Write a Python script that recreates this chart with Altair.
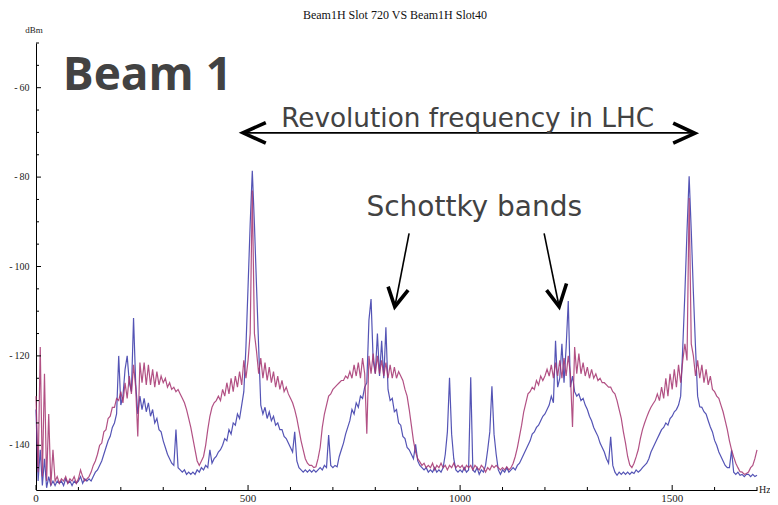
import altair as alt
import pandas as pd

# ---------------- data ----------------
freq = list(range(0, 1705, 5))  # Hz, 5 Hz grid

# magenta trace
red_dbm = (
    [-129, -146, -118, -147, -124, -148, -133, -149, -141, -148, -147, -148.5, -147.5, -148, -147, -148.5, -147.5, -148, -147, -148.5]
    + [-147.5, -145.5, -147, -148, -147.5, -147, -146, -144.5, -143.5, -142, -140, -139.5, -137, -136.5, -134, -133.5, -131.5, -131.5, -129.5, -130]
    + [-128, -130.5, -126, -129.5, -124.5, -128.5, -122, -127, -138, -121.5, -126, -121.5, -126.5, -122, -126.5, -123, -127, -123.5, -126.5, -124.5]
    + [-126, -125, -127, -126, -127.5, -127, -128, -127.5, -128.5, -129.5, -130.5, -132, -134, -136, -138.5, -141, -143.5, -144.5, -143.5, -142.5]
    + [-140, -136.5, -133.5, -131.5, -130.5, -130, -129, -130, -127.5, -129, -126, -128.5, -125, -128, -124.5, -127, -123.5, -126.5, -121, -125]
    + [-121, -115, -83, -115, -119, -124, -120.5, -125, -121.5, -125.5, -122.5, -126, -123.5, -127, -124.5, -127.5, -125.5, -128, -127, -128.5]
    + [-129.5, -130.5, -132, -134, -136.5, -139, -141, -143, -144, -144.5, -144.5, -145, -144.8, -143, -140.5, -136, -133, -131, -129, -128.5]
    + [-127.5, -127, -126.5, -126, -125.5, -125.5, -124.5, -125, -123.5, -125, -122, -124.5, -121.5, -125, -120.5, -124, -137.4, -120, -124, -119.5]
    + [-124, -120, -124, -121, -124.5, -121.5, -125, -122, -125, -122.5, -125, -123.5, -124.5, -125.5, -127.5, -129, -132, -135.5, -139, -141.5]
    + [-143, -143.7, -144.5, -144, -145, -144.5, -145, -144, -145.5, -144.5, -145, -144, -145, -144.5, -145.5, -144.5, -145, -144, -145, -144.5]
    + [-145, -144.5, -145.5, -144.5, -145, -144.5, -145.5, -144.5, -145, -145.5, -144.5, -145, -146, -145, -145.5, -144.5, -145, -144.5, -145, -145.5]
    + [-145, -145.5, -144.8, -145.5, -145, -144, -142.5, -140.5, -138, -135.5, -132.5, -130.5, -128.5, -128, -127, -127.5, -125.5, -126.5, -124.5, -125.5]
    + [-124.5, -123, -124.5, -122, -125, -121.5, -124.5, -121, -125, -120.5, -124.5, -120, -124, -135.9, -118, -124, -119.5, -124, -121.5, -124.5]
    + [-122.5, -125, -123, -125, -124, -125.5, -125, -126, -126, -126.5, -127, -127, -128, -128.5, -130, -132, -134, -137, -139.5, -142.5]
    + [-144.4, -145, -144, -142.6, -141, -138.5, -136.5, -135, -133.7, -132.5, -131.5, -130.7, -130, -128.5, -130, -127, -129.5, -125, -129, -124]
    + [-127.5, -123, -127, -122, -126, -121, -117.3, -121, -84.7, -117.3, -120, -124.5, -121, -125, -122, -126, -123, -126.5, -124.5, -127.5]
    + [-128, -129, -129.5, -131, -132.5, -134.5, -136.5, -139, -141, -142.6, -144, -145, -145.9, -146, -146.5, -146.3, -146, -145, -144.5, -143]
    + [-141]
)

# blue trace
blue_dbm = (
    [-132, -148, -141, -149, -143, -149.5, -147, -149, -148, -149, -148, -148.5, -148, -149, -147.5, -148.5, -148, -149, -148, -148.5]
    + [-148, -147, -148.5, -147.5, -148, -147.5, -148, -147, -146, -145.5, -144.5, -143.5, -142, -140.5, -139, -138, -136, -135, -133, -120]
    + [-131, -129, -123, -120, -126, -128, -111.5, -126, -133, -129, -132, -129.5, -132.5, -130.5, -133.5, -132, -135, -134, -136.5, -137]
    + [-139, -140.5, -142, -143, -144, -144.5, -136.5, -145, -145.5, -146, -145.5, -146.5, -146, -146.5, -146, -146.5, -145.5, -146, -145, -145.5]
    + [-144.5, -145, -141, -144, -143, -142.5, -141.5, -141, -140, -138.5, -139, -136.5, -137.5, -135, -135.5, -133, -134, -131, -128, -118]
    + [-104.5, -90.5, -78.6, -90.5, -104.5, -118, -131, -133, -131.5, -134, -132.5, -134.5, -133.5, -135.5, -135, -136.5, -136.5, -138, -138.5, -139.5]
    + [-140.5, -141.5, -137, -143.5, -145, -145.5, -146, -145.5, -146, -145.5, -146, -145.5, -146, -145.5, -145, -145.5, -144.5, -145, -137.7, -144.5]
    + [-145, -144.5, -144.8, -142.5, -141, -139.5, -137.5, -136, -134.5, -132, -133, -130.5, -131.5, -129, -129.5, -127, -126, -112, -107.3, -121]
    + [-124, -115, -124.5, -116.6, -125, -113.6, -127.5, -130, -129.5, -132.5, -132, -135, -135.5, -138, -138.5, -140.5, -141, -142, -143, -139.8]
    + [-143.5, -144.5, -145, -145.5, -145, -146, -145.5, -146, -145, -146, -145.5, -146, -145, -142, -137, -124.9, -137.5, -143, -145.5, -146]
    + [-145.5, -146, -145, -146, -145.5, -124.8, -145.5, -146, -145, -146.5, -145.5, -146, -144.5, -141, -137, -126.8, -137.5, -142, -145.5, -146.5]
    + [-145.5, -146, -145, -146, -145.5, -145, -145.5, -144.5, -144, -143, -142, -141, -140, -139, -137.5, -137, -136, -135.5, -134.5, -133.5]
    + [-133, -132, -131, -129, -130.5, -116.6, -127, -125, -117.3, -126, -118, -107.7, -127, -124.5, -128, -129, -128.5, -130, -129.5, -131]
    + [-132, -133.5, -134.5, -136, -137, -138, -139.5, -140.5, -141.5, -143, -144, -138.1, -144.5, -146, -146.7, -146, -146.5, -146, -146.5, -146]
    + [-146.5, -146, -146.3, -145.5, -146, -145.6, -145, -144.5, -144, -143, -141.5, -140.5, -139.5, -138.5, -137.5, -136.5, -136, -135, -135.5, -134]
    + [-133.5, -132.5, -132, -131, -129, -118, -105.8, -92, -79.8, -92, -105.8, -118, -129, -131.4, -131.5, -132.5, -133, -134.5, -135.9, -137]
    + [-138.9, -140, -141.5, -142.5, -143.5, -144.5, -145, -145, -141.1, -146, -146.5, -146, -146.7, -146.5, -147, -146.5, -146.5, -147, -146.5, -147]
    + [-146.7]
)

x_major_ticks = [0, 500, 1000, 1500]
x_minor_ticks = [100, 200, 300, 400, 600, 700, 800, 900, 1100, 1200, 1300, 1400, 1600, 1700]
y_major_ticks = [-140, -120, -100, -80, -60]
y_minor_ticks = [-145, -135, -130, -125, -115, -110, -105, -95, -90, -85, -75, -70, -65, -55, -50]
x_tick_labels = ["0", "500", "1000", "1500"]
y_tick_labels = ["-\u2009140", "-\u2009120", "-\u2009100", "-\u200980", "-\u200960"]

title_text = "Beam1H Slot 720 VS Beam1H Slot40"
y_unit = "dBm"
x_unit = "Hz"

# annotation texts (positions in Hz / dBm)
ann_text = ["Beam 1", "Revolution frequency in LHC", "Schottky bands"]
ann_f = [63, 578, 779]
ann_v = [-60.6, -68.9, -88.6]

# arrow shafts (thin) and arrow heads (thick)
shaft_id = ["h", "h", "a1", "a1", "a2", "a2"]
shaft_f = [493, 1549, 879.7, 846, 1198.1, 1233.5]
shaft_v = [-70.1, -70.1, -92.6, -109.0, -92.6, -109.0]
head_id = ["c1"] * 3 + ["c2"] * 3 + ["c3"] * 3 + ["c4"] * 3
head_f = [541.8, 488.2, 541.8, 1502.4, 1553.5, 1502.4, 830.2, 846, 877.4, 1203.8, 1233.5, 1250.9]
head_v = [-67.8, -70.1, -72.4, -67.9, -70.2, -72.4, -104.5, -109.0, -105.3, -105.3, -109.0, -103.8]

# ---------------- chart ----------------
assert len(freq) == len(red_dbm) == len(blue_dbm)

df_red = pd.DataFrame({"f": freq, "v": red_dbm})
df_blue = pd.DataFrame({"f": freq, "v": blue_dbm})

W, H = 721, 447
serif = "Liberation Serif"

xs = alt.Scale(domain=[0, 1700], nice=False, zero=False)
ys = alt.Scale(domain=[-150, -50], nice=False, zero=False)

x_axis = alt.Axis(labels=False, ticks=False, grid=False, domainColor="black",
                  domainWidth=1, title=None)
y_axis = alt.Axis(labels=False, ticks=False, grid=False, domainColor="black",
                  domainWidth=1, title=None)

blue = alt.Chart(df_blue).mark_line(color="#3636a8", strokeWidth=1.2, opacity=0.85).encode(
    x=alt.X("f:Q", scale=xs, axis=x_axis),
    y=alt.Y("v:Q", scale=ys, axis=y_axis),
)
red = alt.Chart(df_red).mark_line(color="#a5336f", strokeWidth=1.2, opacity=0.85).encode(
    x=alt.X("f:Q", scale=xs),
    y=alt.Y("v:Q", scale=ys),
)

# inward ticks
xt_major = alt.Chart(pd.DataFrame({"f": x_major_ticks})).mark_rule(color="black").encode(
    x=alt.X("f:Q", scale=xs), y=alt.value(H), y2=alt.value(H - 5))
xt_minor = alt.Chart(pd.DataFrame({"f": x_minor_ticks})).mark_rule(color="black").encode(
    x=alt.X("f:Q", scale=xs), y=alt.value(H), y2=alt.value(H - 3))
yt_major = alt.Chart(pd.DataFrame({"v": y_major_ticks})).mark_rule(color="black").encode(
    y=alt.Y("v:Q", scale=ys), x=alt.value(0), x2=alt.value(5))
yt_minor = alt.Chart(pd.DataFrame({"v": y_minor_ticks})).mark_rule(color="black").encode(
    y=alt.Y("v:Q", scale=ys), x=alt.value(0), x2=alt.value(3))

# tick labels
xl = alt.Chart(pd.DataFrame({"f": x_major_ticks, "t": x_tick_labels})).mark_text(
    font=serif, fontSize=11, color="#222", align="center", baseline="middle").encode(
    x=alt.X("f:Q", scale=xs), y=alt.value(H + 9), text="t:N")
yl = alt.Chart(pd.DataFrame({"v": y_major_ticks, "t": y_tick_labels})).mark_text(
    font=serif, fontSize=10, color="#222", align="right", baseline="middle").encode(
    y=alt.Y("v:Q", scale=ys), x=alt.value(-6.5), text="t:N")
units = alt.Chart(pd.DataFrame({"t": [y_unit]})).mark_text(
    font=serif, fontSize=9, color="#222", align="center", baseline="middle").encode(
    text="t:N", x=alt.value(-2), y=alt.value(-13))
unit_x = alt.Chart(pd.DataFrame({"t": [x_unit]})).mark_text(
    font=serif, fontSize=10, color="#222", align="left", baseline="middle").encode(
    text="t:N", x=alt.value(723), y=alt.value(H))

df_ann = pd.DataFrame({"t": ann_text, "f": ann_f, "v": ann_v})
beam = alt.Chart(df_ann.iloc[[0]]).mark_text(
    font="Open Sans", fontWeight="bold", fontSize=46, color="#424242",
    align="left", baseline="alphabetic").encode(
    x=alt.X("f:Q", scale=xs), y=alt.Y("v:Q", scale=ys), text="t:N")
rev = alt.Chart(df_ann.iloc[[1]]).mark_text(
    font="DejaVu Sans", fontSize=26.3, color="#424242",
    align="left", baseline="alphabetic").encode(
    x=alt.X("f:Q", scale=xs), y=alt.Y("v:Q", scale=ys), text="t:N")
sch = alt.Chart(df_ann.iloc[[2]]).mark_text(
    font="DejaVu Sans", fontSize=28, color="#424242",
    align="left", baseline="alphabetic").encode(
    x=alt.X("f:Q", scale=xs), y=alt.Y("v:Q", scale=ys), text="t:N")

df_shaft = pd.DataFrame({"id": shaft_id, "f": shaft_f, "v": shaft_v,
                         "o": list(range(len(shaft_id)))})
df_head = pd.DataFrame({"id": head_id, "f": head_f, "v": head_v,
                        "o": list(range(len(head_id)))})
shafts = alt.Chart(df_shaft).mark_line(color="black", strokeWidth=1.6).encode(
    x=alt.X("f:Q", scale=xs), y=alt.Y("v:Q", scale=ys), detail="id:N", order="o:Q")
heads = alt.Chart(df_head).mark_line(color="black", strokeWidth=3.6, strokeJoin="miter").encode(
    x=alt.X("f:Q", scale=xs), y=alt.Y("v:Q", scale=ys), detail="id:N", order="o:Q")

ttl = alt.Chart(pd.DataFrame({"t": [title_text]})).mark_text(
    font=serif, fontSize=12, color="#111", align="center", baseline="middle").encode(
    text="t:N", x=alt.value(359), y=alt.value(-28))

chart = alt.layer(
    blue, red, xt_major, xt_minor, yt_major, yt_minor, xl, yl, units, unit_x,
    shafts, heads, beam, rev, sch, ttl
).properties(
    width=W, height=H,
    autosize=alt.AutoSizeParams(type="none"),
    padding={"left": 28, "top": 35, "right": 13, "bottom": 15},
    background="white",
).configure_view(stroke=None)

chart.save("out.html", embed_options={"renderer": "svg", "actions": False})
